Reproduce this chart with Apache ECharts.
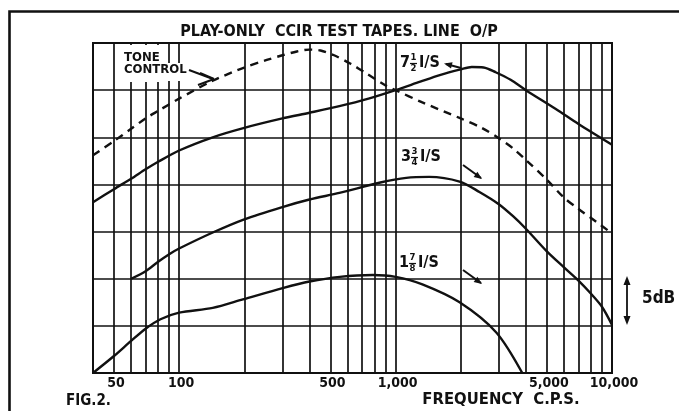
<!DOCTYPE html>
<html>
<head>
<meta charset="utf-8">
<script src="https://cdn.jsdelivr.net/npm/echarts@6/dist/echarts.min.js"></script>
<style>
html,body{margin:0;padding:0;background:#fff;}
#chart{width:679px;height:411px;}
</style>
</head>
<body>
<div id="chart"></div>
<script>
// Frequency grid (c.p.s.) — one vertical rule per 1..9 multiple of each decade
const gridFreqs = [40,50,60,70,80,90,100,200,300,400,500,600,700,800,900,1000,2000,3000,4000,5000,6000,7000,8000,9000,10000];
const tickFreqs = [50,100,500,1000,5000,10000];
const tickLabels = ['50','100','500','1,000','5,000','10,000'];

// Output level in dB (relative, 5 dB per horizontal division)
const toneControl = [[40,23.1],[50,24.6],[60,25.9],[70,27.0],[80,27.8],[100,29.1],[143,31.0],[200,32.4],[254,33.2],[300,33.7],[350,34.1],[400,34.3],[450,34.2],[520,33.7],[620,32.8],[730,31.8],[900,30.5],[1000,30.0],[1330,28.7],[2000,27.0],[2500,26.0],[3000,24.9],[3500,23.8],[4000,22.6],[5000,20.5],[6000,18.6],[7000,17.4],[8500,16.0],[10000,14.8]];
const speed7half = [[40,18.1],[50,19.5],[60,20.6],[70,21.6],[80,22.4],[100,23.6],[143,25.0],[200,26.0],[300,27.0],[400,27.6],[550,28.3],[750,29.1],[1000,30.0],[1300,30.9],[1600,31.6],[2000,32.2],[2250,32.45],[2550,32.4],[2900,31.9],[3400,31.1],[4000,30.0],[5500,28.0],[7000,26.4],[10000,24.2]];
const speed3q = [[60,10.0],[70,10.8],[80,11.8],[90,12.6],[100,13.2],[143,14.9],[200,16.3],[300,17.6],[400,18.4],[550,19.1],[850,20.2],[1120,20.7],[1430,20.8],[1976,20.3],[2440,19.2],[3000,17.9],[3500,16.6],[4000,15.3],[5000,12.9],[6000,11.2],[7000,9.8],[8000,8.4],[9000,7.0],[10000,5.1]];
const speed1_7_8 = [[40,0],[50,1.8],[60,3.4],[70,4.7],[82,5.7],[100,6.4],[143,6.9],[197,7.8],[301,9.0],[400,9.7],[552,10.2],[785,10.4],[1000,10.2],[1330,9.4],[1976,7.5],[2920,4.3],[3850,0]];

const INK = '#111';
const FONT = "'DejaVu Sans Condensed','Liberation Sans Narrow','DejaVu Sans',sans-serif";

function txt(text, x, y, size, align, vAlign) {
  return {
    type: 'text', z: 120,
    style: { text: text, x: x, y: y, fill: INK, font: 'bold ' + size + 'px ' + FONT,
             textAlign: align || 'left', textVerticalAlign: vAlign || 'middle' }
  };
}
function line(x1, y1, x2, y2, w) {
  return { type: 'line', z: 120, shape: { x1: x1, y1: y1, x2: x2, y2: y2 },
           style: { stroke: INK, lineWidth: w || 2 } };
}
function head(x, y, angle, len, half) {
  // filled arrow head whose tip is at (x, y), pointing along angle
  const c = Math.cos(angle), s = Math.sin(angle);
  const bx = x - c * len, by = y - s * len;
  return { type: 'polygon', z: 120,
           shape: { points: [[x, y], [bx - s * half, by + c * half], [bx + s * half, by - c * half]] },
           style: { fill: INK } };
}
// speed label with a stacked fraction, e.g. 7 1/2 I/S
function speedLabel(whole, num, den, x, base) {
  const fx = x + 13.5;
  return [
    txt(whole, x, base, 16, 'left', 'bottom'),
    txt(num, fx, base - 8, 9.5, 'center', 'bottom'),
    line(fx - 3.5, base - 7.5, fx + 3.5, base - 7.5, 1.2),
    txt(den, fx, base - 7, 9.5, 'center', 'top'),
    txt('I/S', x + 19, base, 16, 'left', 'bottom')
  ];
}

const graphics = [
  { type: 'polyline', z: 120, shape: { points: [[9.5, 411], [9.5, 11.5], [679, 11.5]] },
    style: { stroke: INK, lineWidth: 2.6, fill: null } },
  txt('PLAY-ONLY  CCIR TEST TAPES. LINE  O/P', 339, 32, 16, 'center', 'middle'),
  // knock-out behind the tone control caption
  { type: 'rect', z: 110, shape: { x: 121, y: 45, width: 43, height: 37 }, style: { fill: '#fff' } },
  { type: 'rect', z: 110, shape: { x: 164, y: 63, width: 25, height: 18 }, style: { fill: '#fff' } },
  txt('TONE', 124, 58, 13, 'left', 'middle'),
  txt('CONTROL', 124, 70, 13, 'left', 'middle'),
  line(189, 70, 213, 79, 2),
  line(200, 73, 214, 79, 2),
  line(198, 85, 214, 79, 2),
  line(446, 64, 461, 68, 2),
  head(444, 63.5, Math.atan2(-4, -16), 8, 3.2),
  line(463, 165, 481, 178, 2),
  head(482, 179, Math.atan2(13, 18), 8, 3.2),
  line(463, 270, 481, 283, 2),
  head(482, 284, Math.atan2(13, 18), 8, 3.2),
  // 5 dB scale marker
  line(627, 282, 627, 320, 1.8),
  head(627, 276, -Math.PI / 2, 9, 3.5),
  head(627, 325, Math.PI / 2, 9, 3.5),
  txt('5dB', 642, 299, 17, 'left', 'middle'),
  txt('FIG.2.', 66, 401, 15, 'left', 'middle'),
  txt('FREQUENCY  C.P.S.', 501, 400, 16.5, 'center', 'middle')
].concat(
  speedLabel('7', '1', '2', 400, 71),
  speedLabel('3', '3', '4', 401, 165),
  speedLabel('1', '7', '8', 399, 271)
);

const curve = (name, data, dashed) => ({
  name: name, type: 'line', data: data, smooth: 0.3, symbol: 'none',
  lineStyle: { color: INK, width: 2.4, type: dashed ? [8, 6] : 'solid', cap: 'butt' },
  z: 5
});

const chart = echarts.init(document.getElementById('chart'), null, { renderer: 'canvas' });
chart.setOption({
  animation: false,
  backgroundColor: '#fff',
  grid: { left: 93, right: 67, top: 43, bottom: 38, show: true, borderColor: INK, borderWidth: 2, backgroundColor: 'transparent' },
  xAxis: { type: 'log', logBase: 10, min: 40, max: 10000,
           axisLine: { show: false }, axisTick: { show: false }, axisLabel: { show: false }, splitLine: { show: false } },
  yAxis: { type: 'value', min: 0, max: 35, interval: 5,
           axisLine: { show: false }, axisTick: { show: false }, axisLabel: { show: false },
           splitLine: { show: true, lineStyle: { color: INK, width: 1.7 } } },
  series: [
    Object.assign(curve('Tone control', toneControl, true), {
      markLine: {
        silent: true, symbol: ['none', 'none'], label: { show: false },
        lineStyle: { color: INK, width: 1.7, type: 'solid' },
        data: gridFreqs.map(f => ({ xAxis: f }))
      }
    }),
    curve('7½ I/S', speed7half),
    curve('3¾ I/S', speed3q),
    curve('1⅞ I/S', speed1_7_8)
  ],
  graphic: graphics
});

// frequency labels under the chosen rules, placed through the log axis
const tickTexts = tickFreqs.map((f, i) => {
  const p = chart.convertToPixel({ gridIndex: 0 }, [f, 0]);
  return txt(tickLabels[i], p[0] + 2, p[1] + 10, 14, 'center', 'middle');
});
chart.setOption({ graphic: graphics.concat(tickTexts) });
</script>
</body>
</html>
